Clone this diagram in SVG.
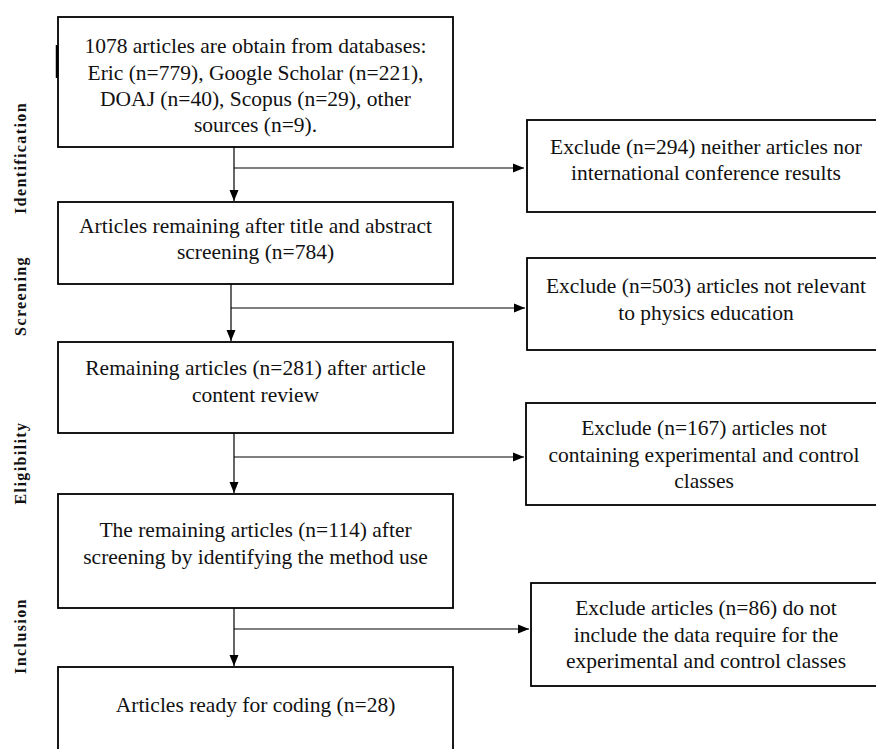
<svg xmlns="http://www.w3.org/2000/svg" width="876" height="749" viewBox="0 0 876 749">
<style>
.box{fill:#fff;stroke:#000;stroke-width:1.8}
.t{font-size:21.5px;fill:#111;text-anchor:middle}
.side{font-size:16px;font-weight:bold;fill:#111;text-anchor:middle;letter-spacing:1.4px}
.c{fill:none;stroke:#000;stroke-width:1.2}
</style>
<defs>
<marker id="ah" markerUnits="userSpaceOnUse" markerWidth="12" markerHeight="10" refX="11" refY="5" orient="auto">
<path d="M0,0.5 L11,5 L0,9.5 z" fill="#000"/>
</marker>
</defs>
<rect width="876" height="749" fill="#fff"/>

<g font-family="Liberation Serif, DejaVu Serif, serif">
<g id="labels">
<text class="side" transform="translate(25.5,158) rotate(-90)">Identification</text>
<text class="side" transform="translate(25.5,296) rotate(-90)">Screening</text>
<text class="side" transform="translate(25.5,463) rotate(-90)">Eligibility</text>
<text class="side" transform="translate(25.5,636) rotate(-90)">Inclusion</text>
</g>

<g id="connectors">
<line class="c" x1="234" y1="147" x2="234" y2="201" marker-end="url(#ah)"/>
<line class="c" x1="234" y1="168" x2="524" y2="168" marker-end="url(#ah)"/>
<line class="c" x1="231" y1="284" x2="231" y2="341" marker-end="url(#ah)"/>
<line class="c" x1="231" y1="308" x2="525" y2="308" marker-end="url(#ah)"/>
<line class="c" x1="234" y1="433" x2="234" y2="493" marker-end="url(#ah)"/>
<line class="c" x1="234" y1="457" x2="524" y2="457" marker-end="url(#ah)"/>
<line class="c" x1="234" y1="608" x2="234" y2="666" marker-end="url(#ah)"/>
<line class="c" x1="234" y1="629" x2="529" y2="629" marker-end="url(#ah)"/>
</g>

<g id="n1">
<rect class="box" x="58" y="17" width="395" height="130"/>
<line x1="57" y1="45" x2="57" y2="78" stroke="#000" stroke-width="2.5"/>
<text class="t" x="255.5" y="53">1078 articles are obtain from databases:</text>
<text class="t" x="255.5" y="79.5">Eric (n=779), Google Scholar (n=221),</text>
<text class="t" x="255.5" y="106">DOAJ (n=40), Scopus (n=29), other</text>
<text class="t" x="255.5" y="132">sources (n=9).</text>
</g>

<g id="n2">
<rect class="box" x="58" y="202" width="395" height="82"/>
<text class="t" x="255.5" y="233">Articles remaining after title and abstract</text>
<text class="t" x="255.5" y="259">screening (n=784)</text>
</g>

<g id="n3">
<rect class="box" x="58" y="342" width="395" height="91"/>
<text class="t" x="255.5" y="375">Remaining articles (n=281) after article</text>
<text class="t" x="255.5" y="402">content review</text>
</g>

<g id="n4">
<rect class="box" x="58" y="494" width="395" height="114"/>
<text class="t" x="255.5" y="537">The remaining articles (n=114) after</text>
<text class="t" x="255.5" y="564">screening by identifying the method use</text>
</g>

<g id="n5">
<rect class="box" x="58" y="667" width="395" height="95"/>
<text class="t" x="255.5" y="712">Articles ready for coding (n=28)</text>
</g>

<g id="e1">
<rect class="box" x="527" y="120" width="360" height="92"/>
<text class="t" x="706" y="154">Exclude (n=294) neither articles nor</text>
<text class="t" x="706" y="180">international conference results</text>
</g>

<g id="e2">
<rect class="box" x="527" y="258" width="360" height="92"/>
<text class="t" x="706" y="293">Exclude (n=503) articles not relevant</text>
<text class="t" x="706" y="320">to physics education</text>
</g>

<g id="e3">
<rect class="box" x="526" y="403" width="360" height="102"/>
<text class="t" x="704" y="435">Exclude (n=167) articles not</text>
<text class="t" x="704" y="462">containing experimental and control</text>
<text class="t" x="704" y="488">classes</text>
</g>

<g id="e4">
<rect class="box" x="531" y="583" width="360" height="103"/>
<text class="t" x="706" y="615">Exclude articles (n=86) do not</text>
<text class="t" x="706" y="642">include the data require for the</text>
<text class="t" x="706" y="668">experimental and control classes</text>
</g>
</g>
</svg>
